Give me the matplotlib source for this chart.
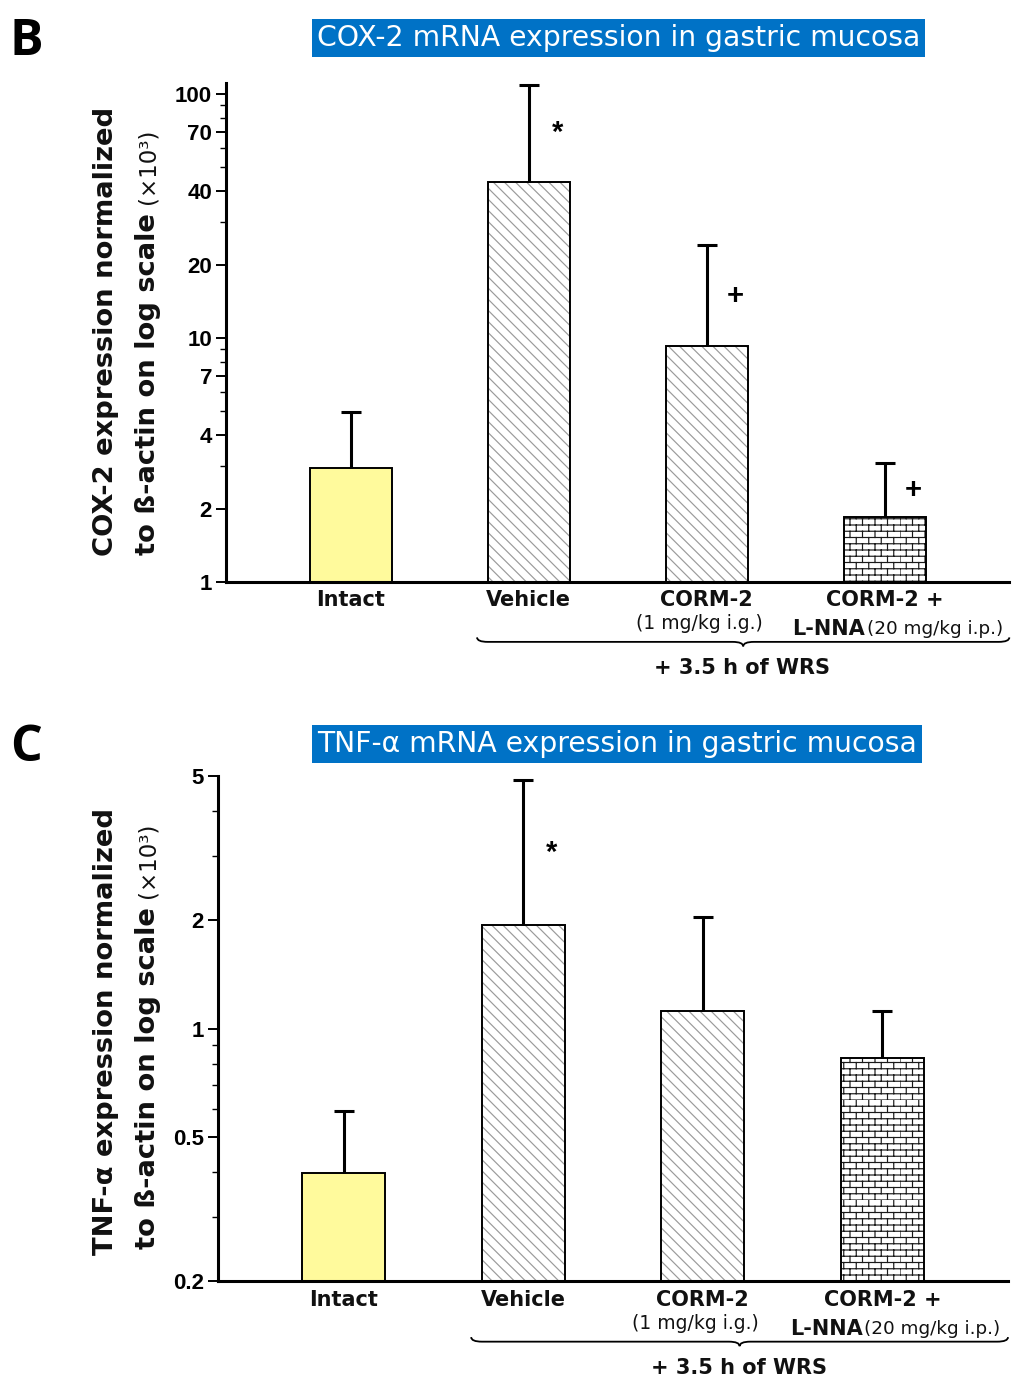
import warnings
import numpy as np
import matplotlib
matplotlib.use('Agg')
import matplotlib.pyplot as plt
import matplotlib.hatch as mhatch
import matplotlib.transforms as mtransforms
from matplotlib.path import Path
from matplotlib.patches import PathPatch
from matplotlib.ticker import FixedLocator, LogLocator, NullFormatter

warnings.filterwarnings('ignore')

# ---- data ----
groups = ['Intact', 'Vehicle', 'CORM-2', 'CORM-2 +']
dose_corm = '(1 mg/kg i.g.)'
dose_lnna = '(20 mg/kg i.p.)'

cox2_mean = [2.93, 43.6, 9.27, 1.85]
cox2_sem = [2.04, 65.4, 14.7, 1.22]
cox2_sig = ['', '*', '+', '+']
cox2_ticks = [1, 2, 4, 7, 10, 20, 40, 70, 100]

tnf_mean = [0.397, 1.93, 1.12, 0.828]
tnf_sem = [0.193, 2.95, 0.92, 0.29]
tnf_sig = ['', '*', '', '']
tnf_ticks = [0.2, 0.5, 1, 2, 5]

fills = ['#FFFA9C', 'white', 'white', 'white']
hatches = [None, '\\\\\\', '\\\\\\', 'bb']
hatch_cols = ['black', '#9a9a9a', '#9a9a9a', '#1a1a1a']

BLUE = '#0072C6'
LABFONT = 'DejaVu Sans'
TICKFONT = 'Liberation Sans'


# brick hatch ('b'), matplotlib has none
class BrickHatch(mhatch.HatchPatternBase):
    def __init__(self, hatch, density):
        self.rows = hatch.count('b') * 8
        self.cols = self.rows // 2
        self.num_vertices = 2 * self.rows + 2 * self.rows * self.cols

    def set_vertices_and_codes(self, vertices, codes):
        k = 0
        for r in range(self.rows):
            y = r / self.rows
            vertices[k] = (0, y); vertices[k + 1] = (1, y)
            codes[k] = Path.MOVETO; codes[k + 1] = Path.LINETO
            k += 2
            for c in range(self.cols):
                x = (c + 0.5 * (r % 2)) / self.cols
                vertices[k] = (x, y); vertices[k + 1] = (x, y + 1 / self.rows)
                codes[k] = Path.MOVETO; codes[k + 1] = Path.LINETO
                k += 2


mhatch._hatch_types.append(BrickHatch)
plt.rcParams['hatch.linewidth'] = 0.85


def brace(ax, x0, x1, y, h, d=0.06):
    tr = mtransforms.blended_transform_factory(ax.transData, ax.transAxes)
    xm = (x0 + x1) / 2
    verts = [(x0, y + h), (x0, y), (x0 + d, y),
             (xm - d, y),
             (xm, y), (xm, y - h),
             (xm, y), (xm + d, y),
             (x1 - d, y),
             (x1, y), (x1, y + h)]
    codes = [Path.MOVETO, Path.CURVE3, Path.CURVE3,
             Path.LINETO,
             Path.CURVE3, Path.CURVE3,
             Path.CURVE3, Path.CURVE3,
             Path.LINETO,
             Path.CURVE3, Path.CURVE3]
    ax.add_patch(PathPatch(Path(verts, codes), transform=tr, fill=False,
                           lw=1.3, color='black', clip_on=False))


def panel(ax, mean, sem, sig, ticks, ylim):
    x = np.arange(len(groups))
    mean = np.array(mean)
    sem = np.array(sem)
    for i in x:
        ax.bar(i, mean[i], width=0.46, color=fills[i], hatch=hatches[i],
               edgecolor=hatch_cols[i], linewidth=0, zorder=2)
        ax.bar(i, mean[i], width=0.46, fill=False, edgecolor='black',
               linewidth=1.4, zorder=3)
    eb = ax.errorbar(x, mean, yerr=[np.zeros_like(sem), sem], fmt='none',
                     ecolor='black', elinewidth=2.2, capsize=7, capthick=2.2,
                     zorder=4)
    eb[1][0].set_visible(False)
    for i in x:
        if sig[i]:
            ax.text(i + 0.16, np.sqrt(mean[i] * (mean[i] + sem[i])), sig[i],
                    ha='center', va='center', fontsize=21, fontweight='bold',
                    family=TICKFONT)

    ax.set_yscale('log')
    ax.set_ylim(*ylim)
    ax.set_xlim(-0.70, 3.70)
    ax.yaxis.set_major_locator(FixedLocator(ticks))
    ax.set_yticklabels(['%g' % t for t in ticks])
    ax.yaxis.set_minor_locator(LogLocator(subs=np.arange(2, 10)))
    ax.yaxis.set_minor_formatter(NullFormatter())
    ax.tick_params(axis='y', which='major', length=7, width=1.4,
                   labelsize=16, pad=3)
    ax.tick_params(axis='y', which='minor', length=4, width=1.0)
    for t in ax.get_yticklabels():
        t.set_fontweight('bold')
        t.set_family(TICKFONT)
    ax.set_xticks([])
    for s in ['top', 'right']:
        ax.spines[s].set_visible(False)
    for s in ['left', 'bottom']:
        ax.spines[s].set_linewidth(2.2)

    tr = mtransforms.blended_transform_factory(ax.transData, ax.transAxes)
    kw = dict(transform=tr, ha='center', va='center', family=LABFONT,
              fontweight='bold', color='#111111')
    for i in x:
        ax.text(i, -0.037, groups[i], fontsize=15, **kw)
    ax.text(1.96, -0.084, dose_corm, fontsize=13.5,
            **{**kw, 'fontweight': 'normal'})
    ax.text(2.89, -0.094, 'L-NNA', fontsize=15, **{**kw, 'ha': 'right'})
    ax.text(2.90, -0.094, dose_lnna, fontsize=13.2,
            **{**kw, 'ha': 'left', 'fontweight': 'normal'})
    brace(ax, 0.71, 3.70, -0.120, 0.009)
    ax.text(2.20, -0.172, '+ 3.5 h of WRS', fontsize=15, **kw)


fig = plt.figure(figsize=(10.24, 13.92), dpi=100)

ax1 = fig.add_axes([0.2207, 0.5819, 0.765, 0.3585])
panel(ax1, cox2_mean, cox2_sem, cox2_sig, cox2_ticks, (1, 111))
ax2 = fig.add_axes([0.2129, 0.0797, 0.7715, 0.3628])
panel(ax2, tnf_mean, tnf_sem, tnf_sig, tnf_ticks, (0.2, 5))

# titles
tkw = dict(ha='center', va='center', color='white', fontsize=20.3,
           family=LABFONT,
           bbox=dict(boxstyle='square,pad=0.18', fc=BLUE, ec='none'))
fig.text(0.604, 0.9727, 'COX-2 mRNA expression in gastric mucosa', **tkw)
fig.text(0.6025, 0.4655, 'TNF-\u03b1 mRNA expression in gastric mucosa', **tkw)

# panel letters
fig.text(0.0255, 0.9605, 'B', fontsize=36, fontweight='bold', family='Open Sans',
         ha='center', va='baseline')
fig.text(0.0255, 0.4535, 'C', fontsize=36, fontweight='bold', family='Open Sans',
         ha='center', va='baseline')

# y labels
ykw = dict(rotation=90, rotation_mode='anchor', va='center', family=LABFONT,
           fontweight='bold', fontsize=19.7, color='#111111')
fig.text(0.1035, 0.762, 'COX-2 expression normalized', ha='center', **ykw)
fig.text(0.1445, 0.8534, 'to \u00df-actin on log scale ', ha='right', **ykw)
fig.text(0.1445, 0.8534, '(\u00d710\u00b3)', ha='left',
         **{**ykw, 'fontsize': 16.5, 'fontweight': 'normal'})

fig.text(0.1035, 0.2593, 'TNF-\u03b1 expression normalized', ha='center', **ykw)
fig.text(0.1445, 0.3549, 'to \u00df-actin on log scale ', ha='right', **ykw)
fig.text(0.1445, 0.3549, '(\u00d710\u00b3)', ha='left',
         **{**ykw, 'fontsize': 16.5, 'fontweight': 'normal'})

fig.savefig('out.png', dpi=100)
